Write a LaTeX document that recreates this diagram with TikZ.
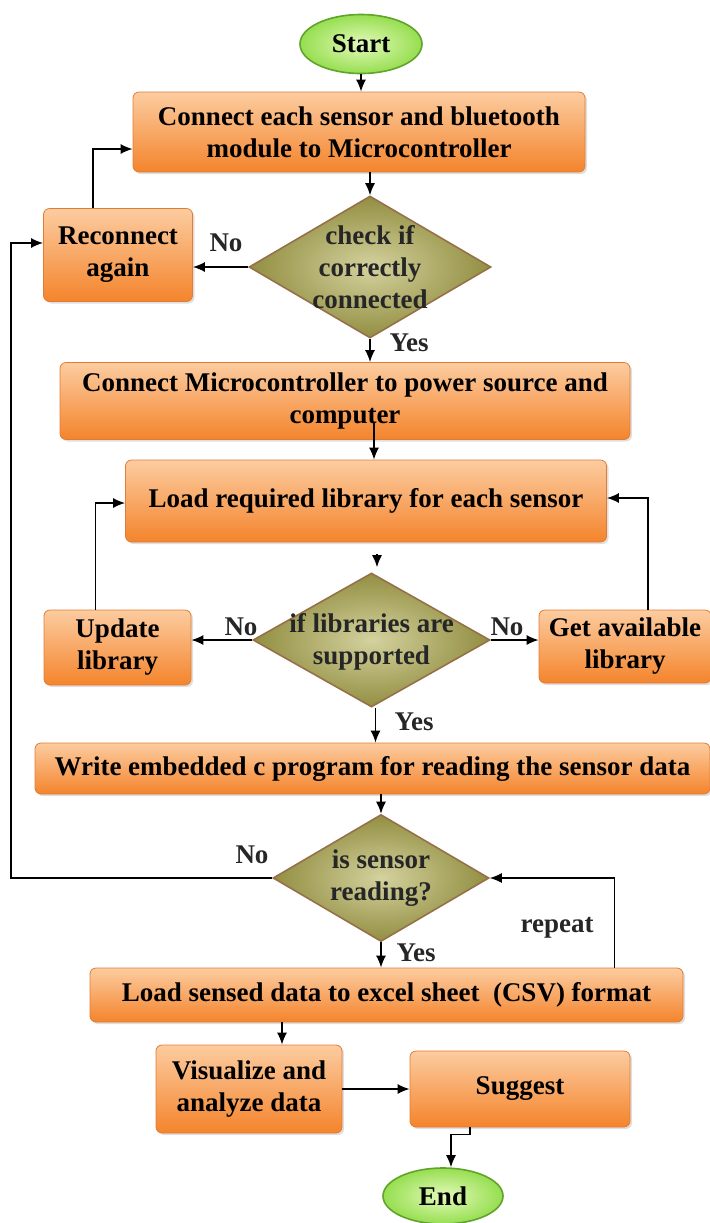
\documentclass[tikz,border=0pt]{standalone}
\usepackage{fontspec}
\setmainfont{Liberation Serif}
\usetikzlibrary{shapes.geometric,arrows.meta,shadows}

\definecolor{orTop}{RGB}{252,204,160}
\definecolor{orMid}{RGB}{247,150,70}
\definecolor{orBot}{RGB}{244,132,44}
\definecolor{orEdge}{RGB}{226,124,52}
\definecolor{olIn}{RGB}{212,210,158}
\definecolor{olOut}{RGB}{146,142,66}
\definecolor{olEdge}{RGB}{150,112,72}
\definecolor{grIn}{RGB}{228,250,186}
\definecolor{grOut}{RGB}{150,222,80}
\definecolor{grEdge}{RGB}{96,164,44}

\begin{document}
\begin{tikzpicture}[x=0.5pt,y=-0.5pt,font=\fontsize{13.5}{16}\selectfont\bfseries]
\tikzstyle{term}=[ellipse, draw=grEdge, thick, inner color=grIn, outer color=grOut, inner sep=0pt]
\tikzstyle{proc}=[rectangle, rounded corners=3pt, draw=orEdge, top color=orTop, middle color=orMid, bottom color=orBot, align=center, inner sep=2pt, drop shadow={opacity=0.25,shadow xshift=1pt,shadow yshift=-1pt}]
\tikzstyle{decide}=[diamond, draw=olEdge, thick, inner color=olIn, outer color=olOut, inner sep=0pt]
\tikzstyle{txt}=[align=center, inner sep=0pt, text=black!85]
\tikzstyle{lbl}=[inner sep=1pt, text=black!85]
\tikzstyle{connect}=[-{Latex[length=6pt,width=5pt]}, line width=0.7pt]
\useasboundingbox (0,0) rectangle (710,1223);
  % main column
  \node[term, minimum width=61pt, minimum height=29.5pt] (start) at (361,44) {Start};
  \node[proc, minimum width=226pt, minimum height=40pt] (b1) at (359,132) {Connect each sensor and bluetooth\\module to Microcontroller};
  \node[decide, minimum width=121pt, minimum height=71pt] (d1) at (370,267) {};
  \node[txt] (d1t) at (d1) {check if\\correctly\\connected};
  \node[proc, minimum width=74.5pt, minimum height=46.5pt] (rec) at (118,255) {Reconnect\\again};
  \node[proc, minimum width=285pt, minimum height=38.5pt] (b2) at (345,401) {Connect Microcontroller to power source and\\computer};
  \node[proc, minimum width=240.5pt, minimum height=41pt] (b3) at (366,501) {Load required library for each sensor};
  \node[decide, minimum width=118.5pt, minimum height=67pt] (d2) at (371.5,640) {};
  \node[txt] (d2t) at ([yshift=-1pt]d2) {if libraries are\\supported};
  \node[proc, minimum width=73.5pt, minimum height=37.5pt] (upd) at (117.5,647.5) {Update\\library};
  \node[proc, minimum width=86pt, minimum height=36.5pt] (get) at (625,646.5) {Get available\\library};
  \node[proc, minimum width=337.5pt, minimum height=25.5pt] (b4) at (372.5,768.5) {Write embedded c program for reading the sensor data};
  \node[decide, minimum width=108pt, minimum height=63.5pt] (d3) at (381,878) {};
  \node[txt] (d3t) at (d3) {is sensor\\reading?};
  \node[proc, minimum width=296.5pt, minimum height=27pt] (b5) at (386.5,995) {Load sensed data to excel sheet~~(CSV) format};
  \node[proc, minimum width=93pt, minimum height=44pt] (vis) at (249,1089) {Visualize and\\analyze data};
  \node[proc, minimum width=110pt, minimum height=38pt] (sug) at (520,1089) {Suggest};
  \node[term, minimum width=60pt, minimum height=28pt] (end) at (443,1196) {End};
  \coordinate (lft) at (11,0);

  % labels
  \node[lbl] (no1) at (226,243) {No};
  \node[lbl] (yes1) at (409,343) {Yes};
  \node[lbl] (no2) at (241,627) {No};
  \node[lbl] (no3) at (507,627) {No};
  \node[lbl] (yes2) at (414,722) {Yes};
  \node[lbl] (no4) at (252,855) {No};
  \node[lbl] (yes3) at (416,953) {Yes};
  \node[lbl] (rep) at (557,928) {repeat};

  % connectors
  \draw[connect] (start) -- (start |- b1.north);
  \draw[connect] (b1.south -| d1) -- (d1.north);
  \draw[connect] (d1.west) -- (d1.west -| rec.east);
  \draw[connect] ([xshift=-12.5pt]rec.north) |- ([yshift=-8.5pt]b1.west);
  \draw[connect] (d1.south) -- (d1.south |- b2.north);
  \draw[connect] ([shift={(14.5pt,8.5pt)}]b2.south) -- ([xshift=14.5pt]b2.south |- b3.north);
  \draw[connect] ([shift={(5.5pt,-6pt)}]b3.south) -- ([shift={(2.75pt,2.5pt)}]d2.north);
  \draw[connect] (d2.west) -- (d2.west -| upd.east);
  \draw[connect] (d2.east) -- (d2.east -| get.west);
  \draw[connect] ([xshift=-11pt]upd.north) |- ([yshift=-1pt]b3.west);
  \draw[connect] ([xshift=11.5pt]get.north) |- ([yshift=1.5pt]b3.east);
  \draw[connect] ([xshift=2pt]d2.south) -- ([xshift=2pt]d2.south |- b4.north);
  \draw[connect] (b4.south -| d3) -- (d3.north);
  \draw[connect] (d3.west) -- (d3.west -| lft) |- ([yshift=6pt]rec.west);
  \draw[connect] (d3.south) -- (d3.south |- b5.north);
  \draw[connect] ([xshift=114pt]b5.north) |- (d3.east);
  \draw[connect] ([xshift=16.5pt]vis.north |- b5.south) -- ([xshift=16.5pt]vis.north);
  \draw[connect] (vis.east) -- (vis.east -| sug.west);
  \draw[connect] ([xshift=-25pt]sug.south) -- ++(0,7) -| ([xshift=4pt]end.north);
\end{tikzpicture}
\end{document}
